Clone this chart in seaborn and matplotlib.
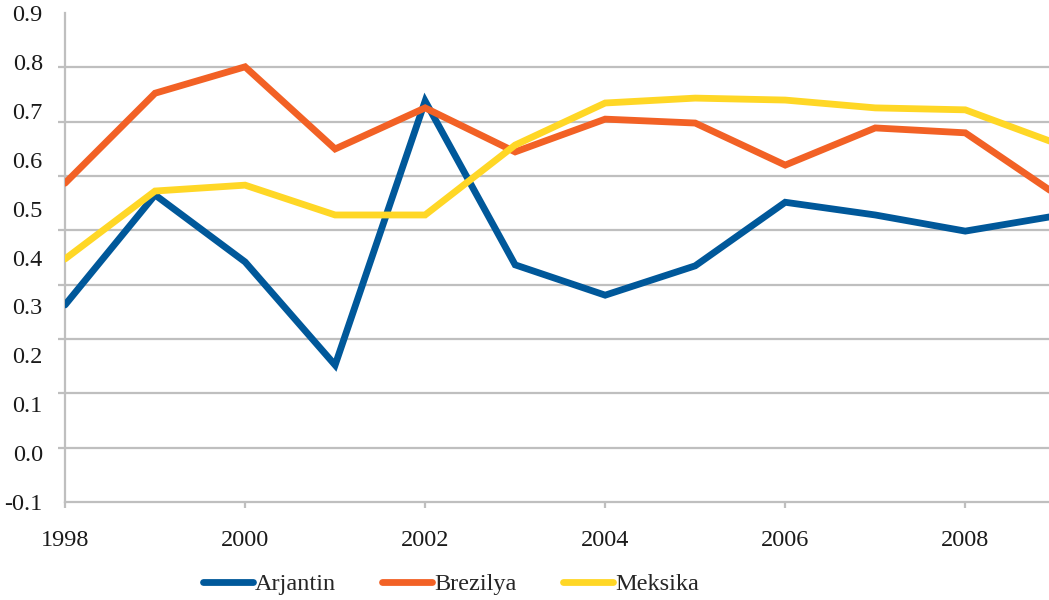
import numpy as np
import pandas as pd
import seaborn as sns
import matplotlib.pyplot as plt


years = list(range(1998, 2010))

arjantin = [0.303, 0.528, 0.391, 0.180, 0.720, 0.385, 0.323, 0.383, 0.513, 0.487, 0.454, 0.485]
brezilya = [0.552, 0.736, 0.790, 0.622, 0.706, 0.616, 0.683, 0.675, 0.589, 0.665, 0.655, 0.530]
meksika = [0.397, 0.536, 0.548, 0.487, 0.487, 0.630, 0.716, 0.726, 0.722, 0.706, 0.702, 0.634]

series_names = ["Arjantin", "Brezilya", "Meksika"]
colors = ["#00589A", "#F26125", "#FFD726"]

y_labels = [-0.1, 0.0, 0.1, 0.2, 0.3, 0.4, 0.5, 0.6, 0.7, 0.8, 0.9]
x_ticks = [1998, 2000, 2002, 2004, 2006, 2008]

df = pd.DataFrame(
    {
        "Yil": years * 3,
        "Deger": arjantin + brezilya + meksika,
        "Ulke": [n for n in series_names for _ in years],
    }
)

sns.set_theme(style="white")
plt.rcParams["font.family"] = ["Liberation Serif", "DejaVu Serif"]

grid_col = "#BFBFBF"
fs = 17.5
lw = 4.9

fig = plt.figure(figsize=(10.49, 6), dpi=100)
ax = fig.add_axes([0.062, 0.1633, 0.944, 0.815])

sns.lineplot(
    data=df, x="Yil", y="Deger", hue="Ulke", palette=colors,
    linewidth=lw, ax=ax, legend=False, zorder=3,
)
for line in ax.lines:
    line.set_solid_capstyle("round")
    line.set_solid_joinstyle("miter")

ax.set_xlim(1998, 2009)
ax.set_ylim(-0.1, 0.9)

# labels on one scale, gridlines on another (as in the original)
ax.set_yticks(y_labels)
ax.set_yticklabels([f"{v:.1f}" for v in y_labels])
ax.set_yticks(np.linspace(-0.1, 0.9, 10), minor=True)
ax.tick_params(axis="y", which="major", length=0, pad=16, labelsize=fs, colors="#1a1a1a")
ax.tick_params(axis="y", which="minor", length=5, width=1.6, color=grid_col, left=True)
ax.grid(False)
ax.yaxis.grid(True, which="minor", color=grid_col, linewidth=1.6, zorder=0)

ax.set_xticks(x_ticks)
ax.set_xticklabels([str(x) for x in x_ticks])
ax.tick_params(axis="x", which="major", length=4.3, width=1.6, color=grid_col,
               bottom=True, pad=16, labelsize=fs, labelcolor="#1a1a1a")

for side in ["top", "right"]:
    ax.spines[side].set_visible(False)
for side in ["left", "bottom"]:
    ax.spines[side].set_color(grid_col)
    ax.spines[side].set_linewidth(1.6)

ax.set_xlabel("")
ax.set_ylabel("")

handles = [plt.Line2D([], [], color=c, linewidth=lw, solid_capstyle="round") for c in colors]
fig.legend(
    handles, series_names, loc="center", bbox_to_anchor=(0.43, 0.026), ncol=3,
    frameon=False, fontsize=fs, handlelength=2.05, handletextpad=0.1,
    columnspacing=1.9,
)

fig.savefig("out.png", dpi=100)
